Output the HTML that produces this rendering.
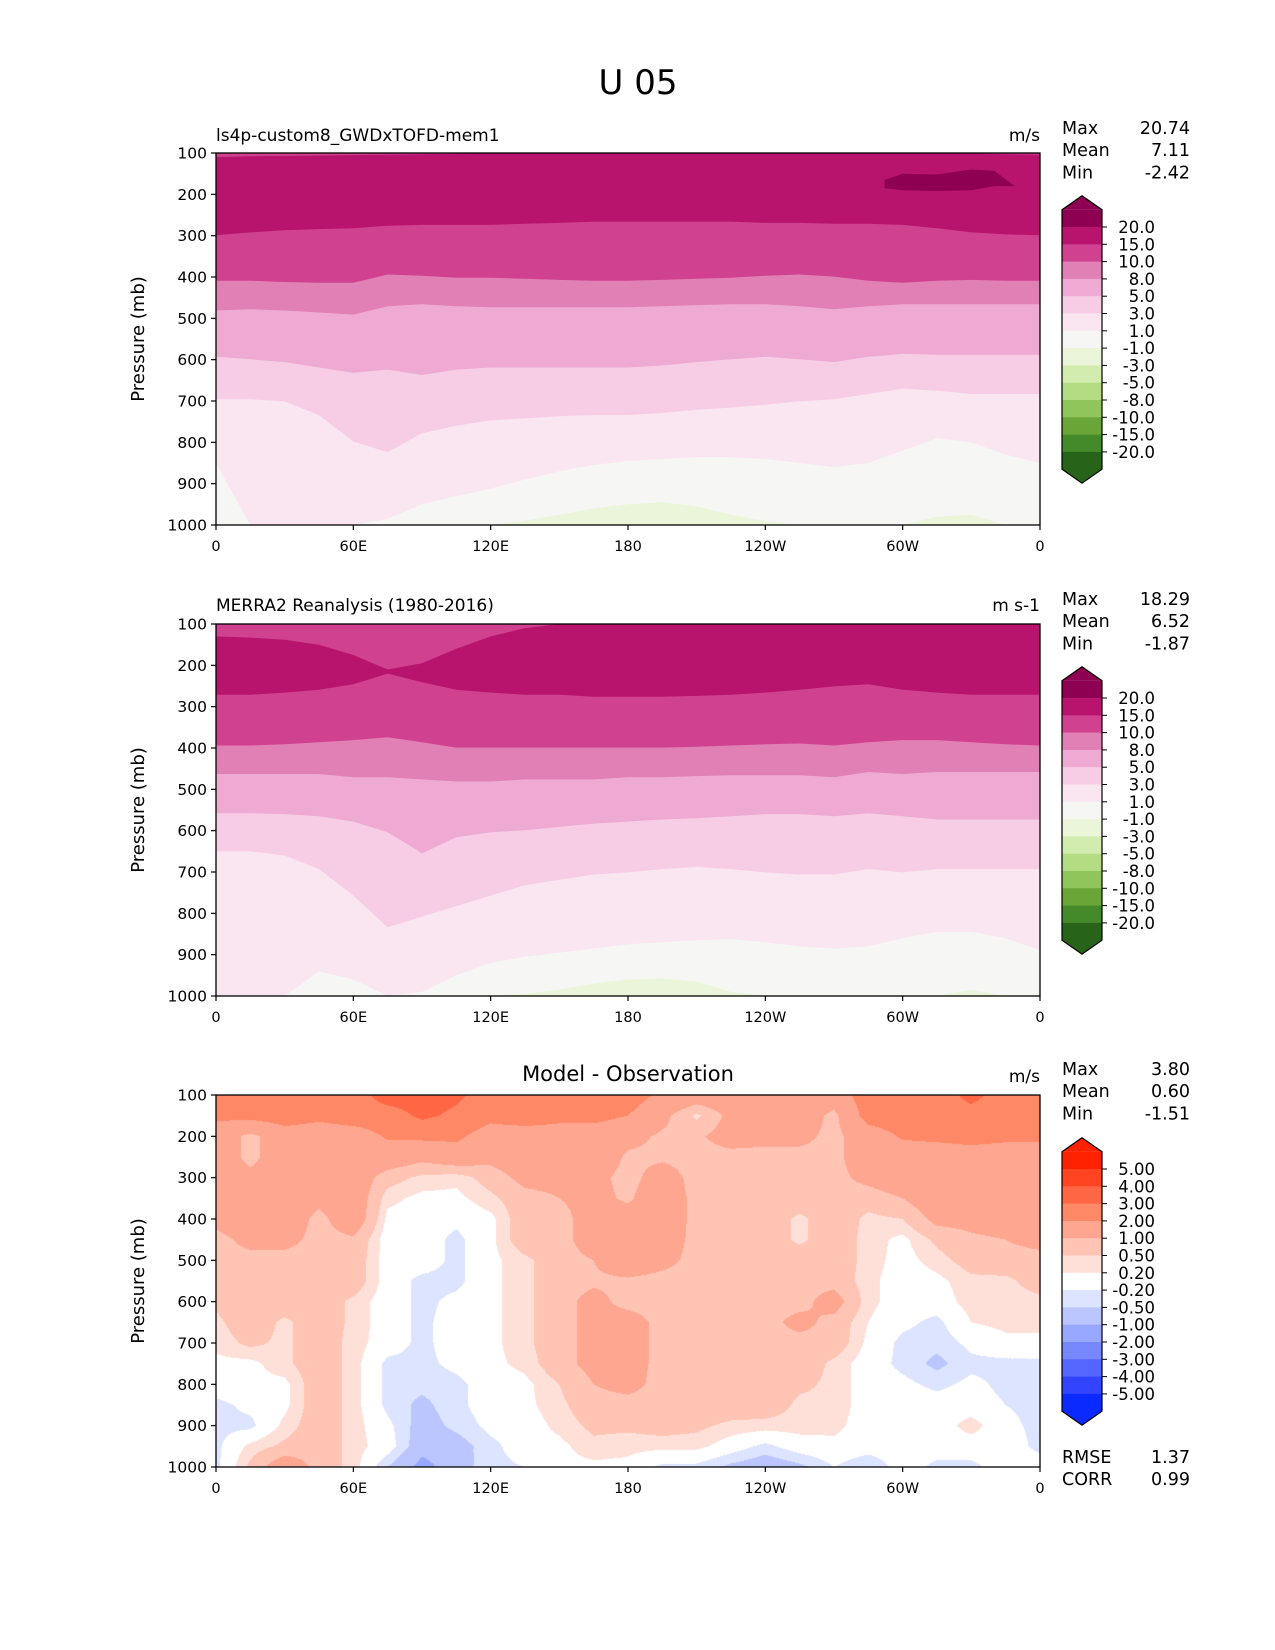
<!DOCTYPE html>
<html><head><meta charset="utf-8">
<style>
html,body{margin:0;padding:0;background:#fff;}
#wrap{position:relative;width:1275px;height:1650px;overflow:hidden;font-family:"DejaVu Sans","Liberation Sans",sans-serif;}
svg text{font-family:"DejaVu Sans","Liberation Sans",sans-serif;fill:#000;}
canvas{position:absolute;}
</style></head>
<body>
<div id="wrap">
<canvas id="diffCanvas" width="824" height="372" style="left:216px;top:1095px"></canvas>
<svg id="fig" width="1275" height="1650" style="position:absolute;left:0;top:0"></svg>
</div>
<script>
// ---- shared axis data ----
const lonGrid = [0,15,30,45,60,75,90,105,120,135,150,165,180,195,210,225,240,255,270,285,300,315,330,345,360];
const xTickLabels = ["0","60E","120E","180","120W","60W","0"];
const yTickValues = [100,200,300,400,500,600,700,800,900,1000];
const presGrid = [100,150,200,250,300,350,400,450,500,550,600,650,700,750,800,850,900,950,1000];

// ---- panel 1 (model) contour boundaries, pressure (mb) at each lonGrid ----
const m1_b15top = [110,108,107,106,105,104,103,102,100,100,100,100,100,100,100,100,100,100,100,100,100,100,101,103,104];
const m1_b15 = [299,292,287,284,282,276,274,274,274,271,269,266,266,266,266,266,269,269,271,271,274,282,292,297,299];
const m1_b10 = [409,409,412,414,414,394,397,402,402,404,407,409,409,407,404,402,397,394,399,409,414,409,407,409,409];
const m1_b8 = [481,478,481,486,491,471,466,471,473,473,473,473,473,471,468,466,466,471,478,471,466,466,466,466,466];
const m1_b5 = [593,599,606,619,632,624,637,624,619,619,619,619,619,614,606,599,593,599,606,593,586,588,588,588,588];
const m1_b3 = [696,696,701,734,798,824,778,760,747,742,737,734,734,729,721,716,709,701,696,683,670,675,683,683,683];
const m1_b1 = [850,1000,1000,1000,1000,985,950,930,912,890,870,855,845,840,836,836,840,850,860,850,820,790,800,830,850];
const m1_bm1 = [1000,1000,1000,1000,1000,1000,1000,1000,1000,990,975,960,950,945,955,975,990,1000,1000,1000,1000,980,975,1000,1000];
const m1_blobLon = [292,300,315,330,340,349];
const m1_blobTop = [165,150,152,140,143,180];
const m1_blobBot = [185,190,192,190,180,180];

// ---- panel 2 (MERRA2) contour boundaries ----
const m2_b15top = [130,133,138,150,175,210,195,160,130,110,100,100,100,100,100,100,100,100,100,100,100,100,100,100,100];
const m2_b15 = [271,271,266,259,246,220,241,259,266,271,271,276,276,276,274,271,266,259,251,246,259,266,271,271,271];
const m2_b10 = [394,394,391,386,381,374,386,399,399,399,399,399,399,399,397,394,391,389,394,386,381,381,386,391,394];
const m2_b8 = [463,463,463,463,471,471,476,481,481,476,476,476,471,471,468,466,466,466,471,458,463,458,458,458,458];
const m2_b5 = [558,558,560,565,578,604,655,616,604,599,591,583,578,573,570,565,560,560,565,558,565,573,573,573,573];
const m2_b3 = [650,650,660,693,757,834,808,783,757,732,719,706,701,693,688,693,701,706,706,693,701,693,693,693,693];
const m2_b1 = [1000,1000,1000,940,960,1000,990,950,920,905,895,885,875,870,865,862,870,880,885,880,860,845,845,860,890];
const m2_bm1 = [1000,1000,1000,1000,1000,1000,1000,1000,1000,995,985,970,960,958,965,990,1000,1000,1000,1000,1000,1000,985,1000,1000];

// ---- panel 3 (difference) values: one column per lonGrid entry, rows = presGrid ----
const diffCols = [
 [2.5,2.2,1.5,1.5,1.5,1.5,1.2,0.8,0.8,0.8,0.6,0.4,0.3,0.1,0.0,-0.3,-0.3,-0.3,-0.3],
 [2.5,2.3,0.8,0.8,1.2,1.5,1.5,1.2,0.8,0.8,0.8,0.8,0.6,0.1,0.1,-0.1,-0.3,0.3,0.6],
 [2.5,2.5,1.5,1.5,1.5,1.5,1.5,1.2,0.8,0.8,0.8,0.4,0.4,0.4,0.1,0.1,0.3,0.6,1.5],
 [2.5,2.2,1.5,1.5,1.5,1.2,0.8,0.8,0.8,0.8,0.8,0.8,0.8,0.8,0.8,0.8,0.8,0.8,0.8],
 [2.5,2.5,1.5,1.5,1.5,1.5,1.5,0.9,0.8,0.8,0.4,0.4,0.35,0.35,0.35,0.35,0.35,0.35,0.35],
 [3.5,2.5,2.1,1.5,0.7,0.3,0.1,0.0,0.0,0.0,0.0,0.0,0.0,-0.3,-0.3,-0.3,-0.1,0.0,-0.5],
 [3.5,3.2,2.2,1.2,0.4,0.1,0.0,0.0,0.0,-0.3,-0.3,-0.3,-0.3,-0.3,-0.4,-0.6,-0.7,-0.8,-1.2],
 [3.2,2.8,2.2,1.5,0.3,0.1,-0.1,-0.3,-0.3,-0.3,-0.1,0.0,0.0,-0.1,-0.3,-0.3,-0.4,-0.7,-0.7],
 [2.5,2.3,1.5,1.2,0.7,0.4,0.1,0.1,0.1,0.1,0.1,0.1,0.1,0.1,0.0,0.0,-0.1,-0.3,-0.3],
 [2.5,2.5,1.5,1.5,1.2,0.8,0.8,0.8,0.4,0.4,0.4,0.4,0.4,0.3,0.1,0.1,0.0,0.0,-0.2],
 [2.5,2.3,1.5,1.5,1.2,1.0,0.8,0.8,0.8,0.8,0.8,0.8,0.8,0.8,0.5,0.4,0.3,0.1,0.1],
 [2.5,2.3,1.5,1.5,1.2,1.2,1.3,1.3,1.0,0.9,1.2,1.2,1.2,1.2,1.0,0.8,0.6,0.4,0.1],
 [2.5,2.0,1.2,0.9,0.8,0.9,1.3,1.3,1.5,0.9,0.8,1.3,1.3,1.3,1.2,0.8,0.6,0.3,0.1],
 [1.8,1.2,0.9,0.9,1.3,1.5,1.5,1.4,1.2,0.8,0.8,0.8,0.8,0.8,0.8,0.8,0.7,0.3,-0.3],
 [1.5,0.4,0.9,0.8,0.8,0.8,0.8,0.8,0.8,0.8,0.8,0.8,0.8,0.8,0.8,0.8,0.6,0.3,-0.3],
 [1.5,1.2,1.3,0.8,0.8,0.8,0.8,0.8,0.8,0.8,0.8,0.8,0.8,0.8,0.8,0.8,0.4,0.0,-0.6],
 [1.5,1.5,1.2,0.8,0.8,0.8,0.8,0.8,0.8,0.8,0.8,0.8,0.8,0.8,0.8,0.8,0.35,-0.3,-0.8],
 [1.5,1.5,1.2,0.8,0.8,0.8,0.4,0.4,0.8,0.8,0.8,1.2,0.8,0.8,0.6,0.4,0.35,0.0,-0.6],
 [1.5,0.8,0.8,0.8,0.8,0.8,0.8,0.8,0.8,0.8,1.3,0.8,0.8,0.4,0.4,0.4,0.3,0.1,-0.2],
 [2.5,2.4,1.5,1.5,1.2,0.7,0.4,0.35,0.35,0.3,0.3,0.2,0.1,0.0,0.0,0.0,0.0,0.0,-0.5],
 [2.5,2.5,2.1,1.5,1.5,1.0,0.5,0.1,0.05,0.0,0.0,-0.1,-0.3,-0.3,-0.1,0.0,0.0,0.0,0.0],
 [2.5,2.6,2.2,1.5,1.5,1.5,1.2,0.6,0.35,0.1,0.0,-0.3,-0.4,-0.6,-0.3,0.0,0.0,0.0,-0.3],
 [3.3,2.6,2.3,1.6,1.5,1.5,1.2,0.9,0.7,0.4,0.35,0.2,-0.1,-0.3,-0.1,0.0,0.35,0.0,-0.3],
 [2.5,2.5,2.2,1.5,1.5,1.5,1.3,1.0,0.8,0.4,0.35,0.3,0.1,-0.3,-0.3,-0.2,-0.1,0.0,0.0],
 [2.3,2.5,2.2,1.5,1.5,1.5,1.5,1.2,0.8,0.7,0.4,0.3,0.1,-0.3,-0.3,-0.3,-0.3,-0.3,0.0]
];

// ---- colorbars ----
const fullLevels = ["20.0","15.0","10.0","8.0","5.0","3.0","1.0","-1.0","-3.0","-5.0","-8.0","-10.0","-15.0","-20.0"];
const fullColors = ["#8e0152","#b8146e","#d0418f","#e080b4","#eeaad3","#f7cde6","#fae6f0","#f6f6f4","#eaf5d9","#d2ecb0","#b4dd83","#8fc55b","#6aa637","#458a2a","#276419"];
const diffLevelLabels = ["5.00","4.00","3.00","2.00","1.00","0.50","0.20","-0.20","-0.50","-1.00","-2.00","-3.00","-4.00","-5.00"];
const diffLevelValues = [5,4,3,2,1,0.5,0.2,-0.2,-0.5,-1,-2,-3,-4,-5];
const diffColors = ["#ff2200","#ff4422","#ff6644","#ff8866","#ffa690","#ffc4b4","#ffe0d8","#ffffff","#dde4ff","#bbc6ff","#99a8ff","#7788ff","#5566ff","#3344ff","#0a2aff"];

// ---- stats ----
const stats1 = [["Max","20.74"],["Mean","7.11"],["Min","-2.42"]];
const stats2 = [["Max","18.29"],["Mean","6.52"],["Min","-1.87"]];
const stats3 = [["Max","3.80"],["Mean","0.60"],["Min","-1.51"]];
const stats3b = [["RMSE","1.37"],["CORR","0.99"]];

const NS = "http://www.w3.org/2000/svg";
const svg = document.getElementById('fig');
const PX = 216, PW = 824, PH = 372;
const panelTops = [153, 624, 1095];
function xScale(lon){ return PX + lon/360*PW; }
function yScale(p, top){ return top + (p-100)/900*PH; }
function mk(tag, attrs, parent){
  const e = document.createElementNS(NS, tag);
  for (const k in attrs) e.setAttribute(k, attrs[k]);
  (parent||svg).appendChild(e);
  return e;
}
function txt(s, x, y, size, anchor, parent){
  const t = mk('text', {x:x, y:y, 'font-size':size, 'text-anchor':anchor||'start'}, parent);
  t.textContent = s;
  return t;
}

function topFill(boundary, top, color, name, g){
  let d = 'M' + xScale(0) + ',' + top;
  for (let i=0;i<lonGrid.length;i++) d += ' L' + xScale(lonGrid[i]).toFixed(1) + ',' + yScale(boundary[i], top).toFixed(1);
  d += ' L' + xScale(360) + ',' + top + ' Z';
  const p = mk('path', {d:d, fill:color}, g);
  
  
}
function bandFill(upper, lower, lons, top, color, name, g){
  let d = '';
  for (let i=0;i<lons.length;i++) d += (i?' L':'M') + xScale(lons[i]).toFixed(1) + ',' + yScale(upper[i], top).toFixed(1);
  for (let i=lons.length-1;i>=0;i--) d += ' L' + xScale(lons[i]).toFixed(1) + ',' + yScale(lower[i], top).toFixed(1);
  d += ' Z';
  const p = mk('path', {d:d, fill:color}, g);
  
  
}
function bottomFill(boundary, top, color, name, g){
  const bot = top + PH;
  let d = 'M' + xScale(0) + ',' + bot;
  for (let i=0;i<lonGrid.length;i++) d += ' L' + xScale(lonGrid[i]).toFixed(1) + ',' + yScale(boundary[i], top).toFixed(1);
  d += ' L' + xScale(360) + ',' + bot + ' Z';
  const p = mk('path', {d:d, fill:color}, g);
  
  
}

function drawFieldPanel(top, b, idx){
  const g = mk('g', {});
  
  
  const clipId = 'clip' + idx;
  const cp = mk('clipPath', {id:clipId}, g);
  mk('rect', {x:PX, y:top, width:PW, height:PH}, cp);
  g.setAttribute('clip-path', 'url(#' + clipId + ')');
  const bg = mk('rect', {x:PX, y:top, width:PW, height:PH, fill:fullColors[7]}, g);
  
  
  bottomFill(b.bm1, top, fullColors[8], 'band-minus1-to-minus3', g);
  topFill(b.b1, top, fullColors[6], 'band-1-to-3', g);
  topFill(b.b3, top, fullColors[5], 'band-3-to-5', g);
  topFill(b.b5, top, fullColors[4], 'band-5-to-8', g);
  topFill(b.b8, top, fullColors[3], 'band-8-to-10', g);
  topFill(b.b10, top, fullColors[2], 'band-10-to-15', g);
  bandFill(b.b15top, b.b15, lonGrid, top, fullColors[1], 'band-15-to-20', g);
  if (b.blobLon) bandFill(b.blobTop, b.blobBot, b.blobLon, top, fullColors[0], 'band-above-20', g);
}

function drawAxes(top, idx){
  const g = mk('g', {});
  
  
  const fr = mk('rect', {x:PX, y:top, width:PW, height:PH, fill:'none', stroke:'#000', 'stroke-width':1.3}, g);
  
  
  yTickValues.forEach(function(p){
    const y = yScale(p, top);
    mk('line', {x1:PX-5, x2:PX, y1:y, y2:y, stroke:'#000', 'stroke-width':1.2}, g);
    const t = txt(String(p), PX-9, y+5.5, 15.5, 'end', g);
    
    
  });
  xTickLabels.forEach(function(s, i){
    const x = xScale(i*60);
    mk('line', {x1:x, x2:x, y1:top+PH, y2:top+PH+5, stroke:'#000', 'stroke-width':1.2}, g);
    const t = txt(s, x, top+PH+26, 14.5, 'middle', g);
    
    
  });
  const yl = txt('Pressure (mb)', 0, 0, 18, 'middle', g);
  yl.setAttribute('transform', 'translate(144,' + (top+PH/2) + ') rotate(-90)');
  
  
}

function drawColorbar(top, colors, labels, idx){
  const g = mk('g', {});
  
  
  const x0 = 1062, x1 = 1102, xm = (x0+x1)/2;
  const step = 17.3, first = top + 74;
  const bodyTop = first - step, bodyBot = first + (labels.length-1)*step + step;
  const tt = mk('path', {d:'M'+x0+','+bodyTop+' L'+xm+','+(bodyTop-14)+' L'+x1+','+bodyTop+' Z', fill:colors[0]}, g);
  
  
  const tb = mk('path', {d:'M'+x0+','+bodyBot+' L'+xm+','+(bodyBot+14)+' L'+x1+','+bodyBot+' Z', fill:colors[colors.length-1]}, g);
  
  
  for (let i=0;i<colors.length;i++){
    const r = mk('rect', {x:x0, y:bodyTop + i*step, width:x1-x0, height:step+0.4, fill:colors[i]}, g);
    
    
  }
  mk('path', {d:'M'+x0+','+bodyTop+' L'+xm+','+(bodyTop-14)+' L'+x1+','+bodyTop+' L'+x1+','+bodyBot+' L'+xm+','+(bodyBot+14)+' L'+x0+','+bodyBot+' Z', fill:'none', stroke:'#000', 'stroke-width':1.2}, g);
  labels.forEach(function(s, i){
    const y = first + i*step;
    mk('line', {x1:x1, x2:x1+5, y1:y, y2:y, stroke:'#000', 'stroke-width':1}, g);
    const t = txt(s, 1155, y+6, 16.5, 'end', g);
    
    
  });
}

function drawStats(rows, y0, name){
  const g = mk('g', {});
  
  
  rows.forEach(function(r, i){
    const y = y0 + i*22.2;
    const a = txt(r[0], 1062, y, 17.5, 'start', g);
    
    
    const b = txt(r[1], 1190, y, 17.5, 'end', g);
    
    
  });
}

drawFieldPanel(panelTops[0], {b15top:m1_b15top,b15:m1_b15,b10:m1_b10,b8:m1_b8,b5:m1_b5,b3:m1_b3,b1:m1_b1,bm1:m1_bm1,blobLon:m1_blobLon,blobTop:m1_blobTop,blobBot:m1_blobBot}, 1);
drawFieldPanel(panelTops[1], {b15top:m2_b15top,b15:m2_b15,b10:m2_b10,b8:m2_b8,b5:m2_b5,b3:m2_b3,b1:m2_b1,bm1:m2_bm1}, 2);

(function(){
  const cv = document.getElementById('diffCanvas');
  const ctx = cv.getContext('2d');
  const img = ctx.createImageData(PW, PH);
  const rgb = diffColors.map(function(c){ return [parseInt(c.substr(1,2),16),parseInt(c.substr(3,2),16),parseInt(c.substr(5,2),16)]; });
  const nC = lonGrid.length, nR = presGrid.length;
  for (let py=0; py<PH; py++){
    const p = 100 + (py+0.5)/PH*900;
    let rf = (p - presGrid[0])/(presGrid[nR-1]-presGrid[0])*(nR-1);
    let r0 = Math.min(nR-2, Math.floor(rf)); const fr = rf - r0;
    for (let px=0; px<PW; px++){
      const lon = (px+0.5)/PW*360;
      let cf = lon/(lonGrid[nC-1]-lonGrid[0])*(nC-1);
      let c0 = Math.min(nC-2, Math.floor(cf)); const fc = cf - c0;
      const v = diffCols[c0][r0]*(1-fc)*(1-fr) + diffCols[c0+1][r0]*fc*(1-fr) + diffCols[c0][r0+1]*(1-fc)*fr + diffCols[c0+1][r0+1]*fc*fr;
      let k = diffLevelValues.length;
      for (let j=0;j<diffLevelValues.length;j++){ if (v > diffLevelValues[j]) { k = j; break; } }
      const col = rgb[k];
      const o = (py*PW+px)*4;
      img.data[o]=col[0]; img.data[o+1]=col[1]; img.data[o+2]=col[2]; img.data[o+3]=255;
    }
  }
  ctx.putImageData(img, 0, 0);
})();

for (let i=0;i<3;i++) drawAxes(panelTops[i], i+1);
drawColorbar(panelTops[0], fullColors, fullLevels, 1);
drawColorbar(panelTops[1], fullColors, fullLevels, 2);
drawColorbar(panelTops[2], diffColors, diffLevelLabels, 3);
drawStats(stats1, 134, 'stats-panel-1');
drawStats(stats2, 605, 'stats-panel-2');
drawStats(stats3, 1075, 'stats-panel-3');
drawStats(stats3b, 1463, 'stats-rmse-corr');

let t;
t = txt('U 05', 638, 94, 34, 'middle');  
t = txt('ls4p-custom8_GWDxTOFD-mem1', 216, 141, 17, 'start');  
t = txt('m/s', 1040, 141, 17, 'end');  
t = txt('MERRA2 Reanalysis (1980-2016)', 216, 611, 17, 'start');  
t = txt('m s-1', 1040, 611, 17, 'end');  
t = txt('Model - Observation', 628, 1081, 21, 'middle');  
t = txt('m/s', 1040, 1082, 17, 'end');  
</script>
</body></html>
